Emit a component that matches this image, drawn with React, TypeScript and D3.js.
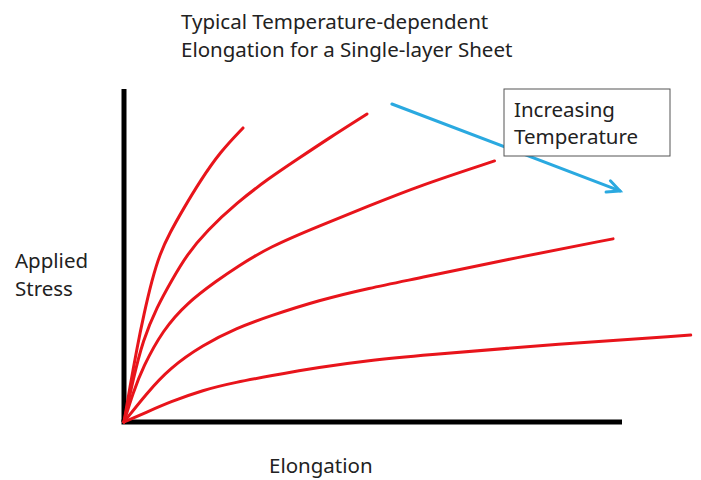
import React from "react";
import * as d3 from "d3";

// Curves: elongation (x) vs applied stress (y), lowest temperature first
const curveNames = ["T1", "T2", "T3", "T4", "T5"];
const curve1X = [0, 1.2, 2.6, 4.0, 5.6, 7.2, 9.2, 11.8, 15.3, 19.3, 23.9];
const curve1Y = [0, 10.5, 22.2, 32.4, 42.6, 50.5, 56.8, 63.7, 72.4, 81.1, 88.3];
const curve2X = [0, 1.8, 3.8, 6.6, 9.6, 12.6, 16.6, 22.6, 29.2, 34.6, 41.2, 48.8];
const curve2Y = [0, 12.6, 24.6, 34.5, 42.6, 50.2, 57.4, 65.8, 73.3, 78.7, 85.3, 92.5];
const curve3X = [0, 1.8, 3.8, 7.8, 12.6, 18.8, 22.6, 29.2, 39.2, 49.2, 59.2, 74.4];
const curve3Y = [0, 8.7, 16.5, 27.6, 35.7, 42.6, 46.5, 52.6, 58.9, 64.9, 70.9, 78.4];
const curve4X = [0, 4.6, 9.2, 15.8, 22.6, 29.2, 39.2, 49.2, 59.2, 79.2, 98.2];
const curve4Y = [0, 8.7, 16.2, 23.1, 28.2, 31.8, 36.6, 40.2, 43.2, 49.5, 55.0];
const curve5X = [0, 4.6, 9.2, 15.8, 22.6, 29.2, 39.2, 49.2, 59.2, 85.8, 113.8];
const curve5Y = [0, 3.0, 6.0, 9.6, 12.0, 13.8, 16.5, 18.5, 20.0, 23.3, 26.1];

const titleLines = ["Typical Temperature-dependent", "Elongation for a Single-layer Sheet"];
const yLabelLines = ["Applied", "Stress"];
const xLabel = "Elongation";
const noteLines = ["Increasing", "Temperature"];
// arrow start / end in data units
const arrowX = [53.8, 99.6];
const arrowY = [95.5, 69.4];

const W = 701;
const H = 480;
const FONT = "'Noto Sans', 'Open Sans', sans-serif";
const FS = 20.5;

export default function App() {
  const x = d3.scaleLinear().domain([0, 100]).range([124, 622]);
  const y = d3.scaleLinear().domain([0, 100]).range([422, 89]);

  const xs = [curve1X, curve2X, curve3X, curve4X, curve5X];
  const ys = [curve1Y, curve2Y, curve3Y, curve4Y, curve5Y];
  const series = curveNames.map((name, i) => ({
    name,
    points: xs[i].map((v, j) => [v, ys[i][j]] as [number, number]),
  }));

  const line = d3
    .line<[number, number]>()
    .x((d) => x(d[0]))
    .y((d) => y(d[1]))
    .curve(d3.curveBasis);

  const ax0 = x(arrowX[0]);
  const ay0 = y(arrowY[0]);
  const ax1 = x(arrowX[1]);
  const ay1 = y(arrowY[1]);
  const ang = Math.atan2(ay1 - ay0, ax1 - ax0);
  const headLen = 14;
  const spread = 0.45;
  const h1 = [ax1 - headLen * Math.cos(ang - spread), ay1 - headLen * Math.sin(ang - spread)];
  const h2 = [ax1 - headLen * Math.cos(ang + spread), ay1 - headLen * Math.sin(ang + spread)];

  return (
    <svg width={W} height={H} style={{ position: "absolute", left: 0, top: 0, background: "#fff" }}>
      <rect x={0} y={0} width={W} height={H} fill="#fff" />
      <g fontFamily={FONT} fill="#222" fontSize={FS}>
        {titleLines.map((t, i) => (
          <text key={t} x={181} y={29 + i * 28}>
            {t}
          </text>
        ))}
        {yLabelLines.map((t, i) => (
          <text key={t} x={15} y={268 + i * 28}>
            {t}
          </text>
        ))}
        <text x={269} y={473}>
          {xLabel}
        </text>
      </g>

      {/* axes */}
      <line x1={x(0)} y1={y(0)} x2={x(0)} y2={y(100)} stroke="#000" strokeWidth={5} />
      <line x1={x(0) - 2.5} y1={y(0)} x2={x(100)} y2={y(0)} stroke="#000" strokeWidth={5} />

      {/* curves */}
      {series.map((s) => (
        <path
          key={s.name}
          d={line(s.points) || ""}
          fill="none"
          stroke="#E8141B"
          strokeWidth={3}
          strokeLinecap="round"
        />
      ))}

      {/* arrow */}
      <g stroke="#2AA9E0" strokeWidth={3} fill="none" strokeLinecap="round">
        <line x1={ax0} y1={ay0} x2={ax1} y2={ay1} />
        <polyline points={`${h1[0]},${h1[1]} ${ax1},${ay1} ${h2[0]},${h2[1]}`} />
      </g>

      {/* note box */}
      <rect x={504} y={89} width={166} height={67} fill="#fff" stroke="#555" strokeWidth={1} />
      <g fontFamily={FONT} fill="#222" fontSize={FS}>
        {noteLines.map((t, i) => (
          <text key={t} x={514} y={117 + i * 27}>
            {t}
          </text>
        ))}
      </g>
    </svg>
  );
}
